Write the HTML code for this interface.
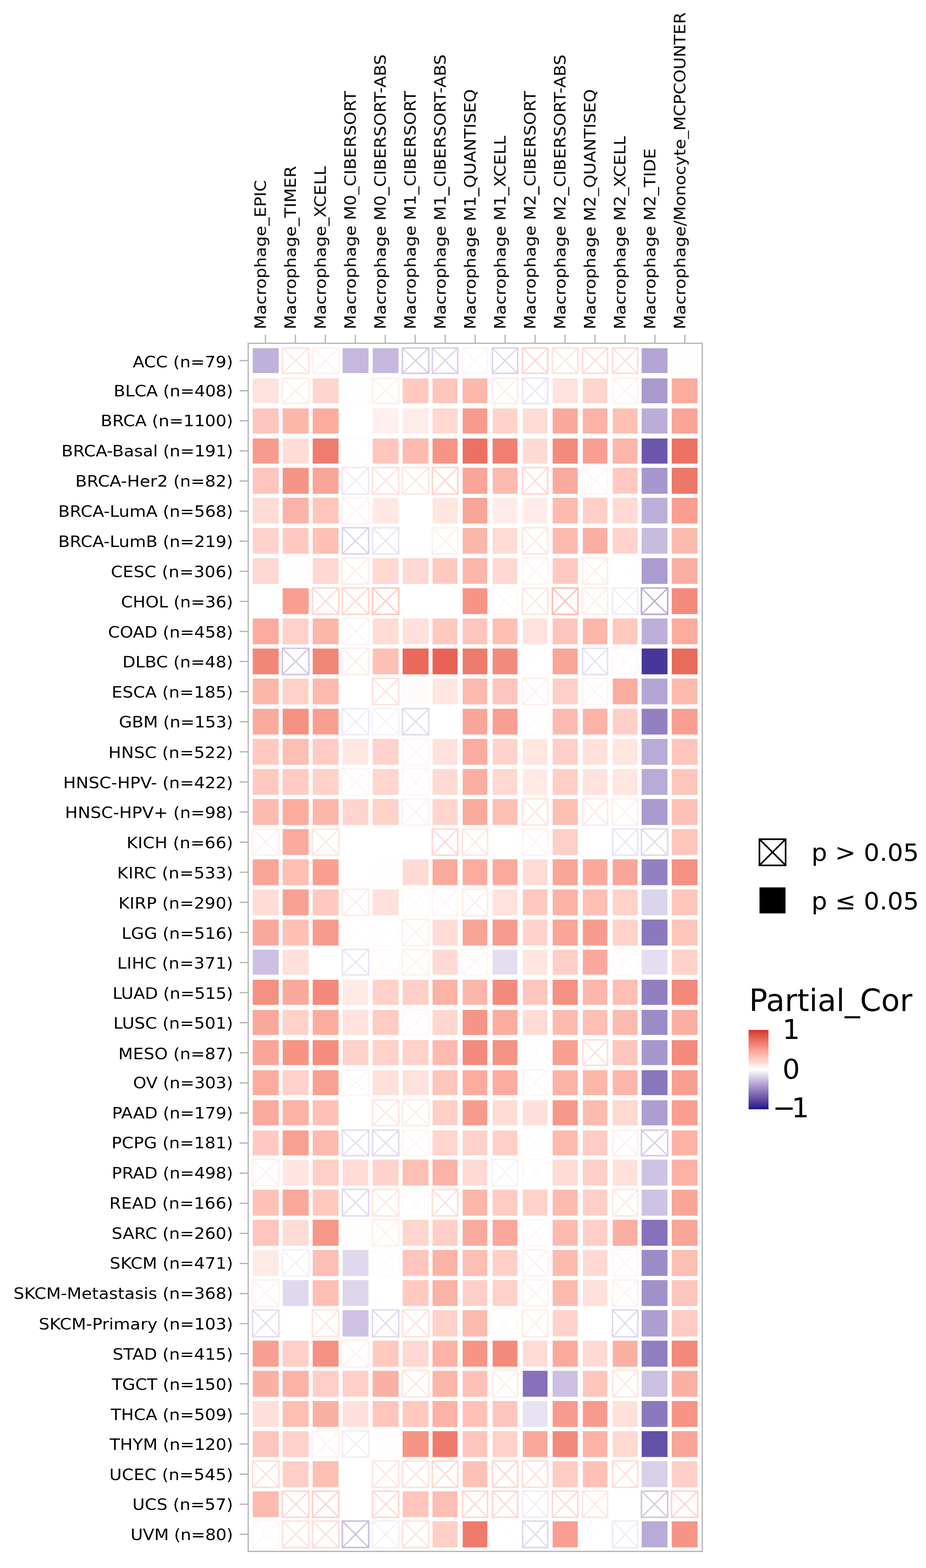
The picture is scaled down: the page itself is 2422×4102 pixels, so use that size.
<!DOCTYPE html>
<html lang="en"><head><meta charset="utf-8"><title>Partial_Cor heatmap</title>
<style>
html,body{margin:0;padding:0;background:#fff}
body{width:2422px;height:4102px;overflow:hidden}
svg{display:block;font-family:"DejaVu Sans","Liberation Sans",sans-serif;fill:#000}
.yl text{font-size:44.27px;text-anchor:end}
.xl text{font-size:43.85px;text-anchor:start}
.tk{stroke:#b3b3b3;stroke-width:3.2;fill:none}
.nb{fill:none;stroke-width:4.2}
.nx{fill:none;stroke-width:3.3}
</style></head><body>
<svg width="2422" height="4102" viewBox="0 0 2422 4102">
<rect width="2422" height="4102" fill="#fff"/>
<defs><filter id="soft" x="0" y="0" width="2422" height="4102" filterUnits="userSpaceOnUse" color-interpolation-filters="sRGB"><feGaussianBlur stdDeviation="0.7"/></filter></defs>
<g filter="url(#soft)">
<rect x="649.2" y="898" width="1187.6" height="3160.6" fill="#fff" stroke="#b3b3b3" stroke-width="3.2"/>
<path class="tk" d="M694.3 875.5v22.5M772.66 875.5v22.5M851.02 875.5v22.5M929.38 875.5v22.5M1007.74 875.5v22.5M1086.1 875.5v22.5M1164.46 875.5v22.5M1242.82 875.5v22.5M1321.18 875.5v22.5M1399.54 875.5v22.5M1477.9 875.5v22.5M1556.26 875.5v22.5M1634.62 875.5v22.5M1712.98 875.5v22.5M1791.34 875.5v22.5M626.7 943.4h22.5M626.7 1022.13h22.5M626.7 1100.86h22.5M626.7 1179.59h22.5M626.7 1258.32h22.5M626.7 1337.05h22.5M626.7 1415.78h22.5M626.7 1494.51h22.5M626.7 1573.24h22.5M626.7 1651.97h22.5M626.7 1730.7h22.5M626.7 1809.43h22.5M626.7 1888.16h22.5M626.7 1966.89h22.5M626.7 2045.62h22.5M626.7 2124.35h22.5M626.7 2203.08h22.5M626.7 2281.81h22.5M626.7 2360.54h22.5M626.7 2439.27h22.5M626.7 2518h22.5M626.7 2596.73h22.5M626.7 2675.46h22.5M626.7 2754.19h22.5M626.7 2832.92h22.5M626.7 2911.65h22.5M626.7 2990.38h22.5M626.7 3069.11h22.5M626.7 3147.84h22.5M626.7 3226.57h22.5M626.7 3305.3h22.5M626.7 3384.03h22.5M626.7 3462.76h22.5M626.7 3541.49h22.5M626.7 3620.22h22.5M626.7 3698.95h22.5M626.7 3777.68h22.5M626.7 3856.41h22.5M626.7 3935.14h22.5M626.7 4013.87h22.5"/>
<g class="cells">
<g>
<rect x="661.05" y="910.95" width="67.8" height="65.1" fill="#bfb1da"/>
<g stroke="#ffe2dd"><path class="nb" d="M738.75 910.4H807.85V976.6H738.75z"/><path class="nx" d="M738.75 910.4L807.85 976.6M738.75 976.6L807.85 910.4"/></g>
<g stroke="#fff1ef"><path class="nb" d="M817.3 910.4H886.1V976.6H817.3z"/><path class="nx" d="M817.3 910.4L886.1 976.6M817.3 976.6L886.1 910.4"/></g>
<rect x="896.1" y="910.95" width="67.7" height="65.1" fill="#c5b8de"/>
<rect x="974.85" y="910.95" width="67.5" height="65.1" fill="#c5b8de"/>
<g stroke="#d6cce7"><path class="nb" d="M1052.55 910.4H1121.45V976.6H1052.55z"/><path class="nx" d="M1052.55 910.4L1121.45 976.6M1052.55 976.6L1121.45 910.4"/></g>
<g stroke="#dad1ea"><path class="nb" d="M1130.8 910.4H1197.25V976.6H1130.8z"/><path class="nx" d="M1130.8 910.4L1197.25 976.6M1130.8 976.6L1197.25 910.4"/></g>
<g stroke="#fff5f4"><path class="nb" d="M1209.6 910.4H1275.25V976.6H1209.6z"/><path class="nx" d="M1209.6 910.4L1275.25 976.6M1209.6 976.6L1275.25 910.4"/></g>
<g stroke="#dcd4eb"><path class="nb" d="M1287.9 910.4H1354V976.6H1287.9z"/><path class="nx" d="M1287.9 910.4L1354 976.6M1287.9 976.6L1354 910.4"/></g>
<g stroke="#ffd5cd"><path class="nb" d="M1366.85 910.4H1432.6V976.6H1366.85z"/><path class="nx" d="M1366.85 910.4L1432.6 976.6M1366.85 976.6L1432.6 910.4"/></g>
<g stroke="#ffe2dd"><path class="nb" d="M1444.9 910.4H1511.6V976.6H1444.9z"/><path class="nx" d="M1444.9 910.4L1511.6 976.6M1444.9 976.6L1511.6 910.4"/></g>
<g stroke="#ffdcd6"><path class="nb" d="M1523.85 910.4H1589.1V976.6H1523.85z"/><path class="nx" d="M1523.85 910.4L1589.1 976.6M1523.85 976.6L1589.1 910.4"/></g>
<g stroke="#ffdcd6"><path class="nb" d="M1602.1 910.4H1668.1V976.6H1602.1z"/><path class="nx" d="M1602.1 910.4L1668.1 976.6M1602.1 976.6L1668.1 910.4"/></g>
<rect x="1678.3" y="910.95" width="67.5" height="65.1" fill="#b4a5d5"/>
<g stroke="#fffbfa"><path class="nb" d="M1756.4 910.4H1825V976.6H1756.4z"/><path class="nx" d="M1756.4 910.4L1825 976.6M1756.4 976.6L1825 910.4"/></g>
</g>
<g>
<rect x="661.05" y="989.88" width="67.8" height="65.1" fill="#ffe2dd"/>
<g stroke="#ffece8"><path class="nb" d="M738.75 989.33H807.85V1055.53H738.75z"/><path class="nx" d="M738.75 989.33L807.85 1055.53M738.75 1055.53L807.85 989.33"/></g>
<rect x="817.85" y="989.88" width="67.7" height="65.1" fill="#ffd5cd"/>
<g stroke="#fffbfa"><path class="nb" d="M895.55 989.33H964.35V1055.53H895.55z"/><path class="nx" d="M895.55 989.33L964.35 1055.53M895.55 1055.53L964.35 989.33"/></g>
<g stroke="#fff0ed"><path class="nb" d="M974.3 989.33H1042.9V1055.53H974.3z"/><path class="nx" d="M974.3 989.33L1042.9 1055.53M974.3 1055.53L1042.9 989.33"/></g>
<rect x="1053.1" y="989.88" width="67.8" height="65.1" fill="#ffc9c0"/>
<rect x="1131.35" y="989.88" width="65.35" height="65.1" fill="#fec5bc"/>
<rect x="1210.15" y="989.88" width="64.55" height="65.1" fill="#fdb8ac"/>
<g stroke="#ffece8"><path class="nb" d="M1287.9 989.33H1354V1055.53H1287.9z"/><path class="nx" d="M1287.9 989.33L1354 1055.53M1287.9 1055.53L1354 989.33"/></g>
<g stroke="#eae5f3"><path class="nb" d="M1366.85 989.33H1432.6V1055.53H1366.85z"/><path class="nx" d="M1366.85 989.33L1432.6 1055.53M1366.85 1055.53L1432.6 989.33"/></g>
<rect x="1445.45" y="989.88" width="65.6" height="65.1" fill="#ffe2dd"/>
<rect x="1524.4" y="989.88" width="64.15" height="65.1" fill="#ffd5cd"/>
<g stroke="#fff3f1"><path class="nb" d="M1602.1 989.33H1668.1V1055.53H1602.1z"/><path class="nx" d="M1602.1 989.33L1668.1 1055.53M1602.1 1055.53L1668.1 989.33"/></g>
<rect x="1678.3" y="989.88" width="67.5" height="65.1" fill="#aa99cf"/>
<rect x="1756.95" y="989.88" width="67.5" height="65.1" fill="#fbac9f"/>
</g>
<g>
<rect x="661.05" y="1068.41" width="67.8" height="65.7" fill="#fec5bc"/>
<rect x="739.3" y="1068.41" width="68" height="65.7" fill="#fcb6aa"/>
<rect x="817.85" y="1068.41" width="67.7" height="65.7" fill="#fbac9f"/>
<rect x="974.85" y="1068.41" width="67.5" height="65.7" fill="#fff0ed"/>
<rect x="1053.1" y="1068.41" width="67.8" height="65.7" fill="#ffece8"/>
<rect x="1131.35" y="1068.41" width="65.35" height="65.7" fill="#ffd8d2"/>
<rect x="1210.15" y="1068.41" width="64.55" height="65.7" fill="#f79b8d"/>
<rect x="1288.45" y="1068.41" width="65" height="65.7" fill="#ffd3cb"/>
<rect x="1367.4" y="1068.41" width="64.65" height="65.7" fill="#ffdcd6"/>
<rect x="1445.45" y="1068.41" width="65.6" height="65.7" fill="#faa89b"/>
<rect x="1524.4" y="1068.41" width="64.15" height="65.7" fill="#fcb2a6"/>
<rect x="1602.65" y="1068.41" width="64.9" height="65.7" fill="#fec0b5"/>
<rect x="1678.3" y="1068.41" width="67.5" height="65.7" fill="#bbacd8"/>
<rect x="1756.95" y="1068.41" width="67.5" height="65.7" fill="#f9a597"/>
</g>
<g>
<rect x="661.05" y="1147.14" width="67.8" height="65.7" fill="#f79b8d"/>
<rect x="739.3" y="1147.14" width="68" height="65.7" fill="#ffdcd6"/>
<rect x="817.85" y="1147.14" width="67.7" height="65.7" fill="#ef7d6e"/>
<g stroke="#fffbfa"><path class="nb" d="M895.55 1146.59H964.35V1213.39H895.55z"/><path class="nx" d="M895.55 1146.59L964.35 1213.39M895.55 1213.39L964.35 1146.59"/></g>
<rect x="974.85" y="1147.14" width="67.5" height="65.7" fill="#fec5bc"/>
<rect x="1053.1" y="1147.14" width="67.8" height="65.7" fill="#fdbaaf"/>
<rect x="1131.35" y="1147.14" width="65.35" height="65.7" fill="#f69586"/>
<rect x="1210.15" y="1147.14" width="64.55" height="65.7" fill="#eb7162"/>
<rect x="1288.45" y="1147.14" width="65" height="65.7" fill="#f07f70"/>
<rect x="1367.4" y="1147.14" width="64.65" height="65.7" fill="#ffdad4"/>
<rect x="1445.45" y="1147.14" width="65.6" height="65.7" fill="#f38b7c"/>
<rect x="1524.4" y="1147.14" width="64.15" height="65.7" fill="#f89f91"/>
<rect x="1602.65" y="1147.14" width="64.9" height="65.7" fill="#fcb6aa"/>
<rect x="1678.3" y="1147.14" width="67.5" height="65.7" fill="#6c56ac"/>
<rect x="1756.95" y="1147.14" width="67.5" height="65.7" fill="#ec7364"/>
</g>
<g>
<rect x="661.05" y="1223.77" width="67.8" height="68" fill="#fec5bc"/>
<rect x="739.3" y="1223.77" width="68" height="68" fill="#f69586"/>
<rect x="817.85" y="1223.77" width="67.7" height="68" fill="#f9a597"/>
<g stroke="#eeeaf6"><path class="nb" d="M895.55 1223.22H964.35V1292.32H895.55z"/><path class="nx" d="M895.55 1223.22L964.35 1292.32M895.55 1292.32L964.35 1223.22"/></g>
<g stroke="#ffe2dd"><path class="nb" d="M974.3 1223.22H1042.9V1292.32H974.3z"/><path class="nx" d="M974.3 1223.22L1042.9 1292.32M974.3 1292.32L1042.9 1223.22"/></g>
<g stroke="#ffe6e1"><path class="nb" d="M1052.55 1223.22H1121.45V1292.32H1052.55z"/><path class="nx" d="M1052.55 1223.22L1121.45 1292.32M1052.55 1292.32L1121.45 1223.22"/></g>
<g stroke="#ffd5cd"><path class="nb" d="M1130.8 1223.22H1197.25V1292.32H1130.8z"/><path class="nx" d="M1130.8 1223.22L1197.25 1292.32M1130.8 1292.32L1197.25 1223.22"/></g>
<rect x="1210.15" y="1223.77" width="64.55" height="68" fill="#f9a597"/>
<rect x="1288.45" y="1223.77" width="65" height="68" fill="#fdbaaf"/>
<g stroke="#ffd8d2"><path class="nb" d="M1366.85 1223.22H1432.6V1292.32H1366.85z"/><path class="nx" d="M1366.85 1223.22L1432.6 1292.32M1366.85 1292.32L1432.6 1223.22"/></g>
<rect x="1445.45" y="1223.77" width="65.6" height="68" fill="#faaa9d"/>
<g stroke="#fff5f4"><path class="nb" d="M1523.85 1223.22H1589.1V1292.32H1523.85z"/><path class="nx" d="M1523.85 1223.22L1589.1 1292.32M1523.85 1292.32L1589.1 1223.22"/></g>
<rect x="1602.65" y="1223.77" width="64.9" height="68" fill="#ffc9c0"/>
<rect x="1678.3" y="1223.77" width="67.5" height="68" fill="#a897cd"/>
<rect x="1756.95" y="1223.77" width="67.5" height="68" fill="#ed7768"/>
</g>
<g>
<rect x="661.05" y="1302.2" width="67.8" height="67.3" fill="#ffdcd6"/>
<rect x="739.3" y="1302.2" width="68" height="67.3" fill="#fcb2a6"/>
<rect x="817.85" y="1302.2" width="67.7" height="67.3" fill="#fec5bc"/>
<g stroke="#fff3f1"><path class="nb" d="M895.55 1301.65H964.35V1370.05H895.55z"/><path class="nx" d="M895.55 1301.65L964.35 1370.05M895.55 1370.05L964.35 1301.65"/></g>
<rect x="974.85" y="1302.2" width="67.5" height="67.3" fill="#ffe8e4"/>
<rect x="1131.35" y="1302.2" width="65.35" height="67.3" fill="#ffe6e1"/>
<rect x="1210.15" y="1302.2" width="64.55" height="67.3" fill="#f9a597"/>
<rect x="1288.45" y="1302.2" width="65" height="67.3" fill="#ffece8"/>
<rect x="1367.4" y="1302.2" width="64.65" height="67.3" fill="#ffece8"/>
<rect x="1445.45" y="1302.2" width="65.6" height="67.3" fill="#fdbaaf"/>
<rect x="1524.4" y="1302.2" width="64.15" height="67.3" fill="#ffcfc7"/>
<rect x="1602.65" y="1302.2" width="64.9" height="67.3" fill="#ffdad4"/>
<rect x="1678.3" y="1302.2" width="67.5" height="67.3" fill="#bdafd9"/>
<rect x="1756.95" y="1302.2" width="67.5" height="67.3" fill="#f89f91"/>
</g>
<g>
<rect x="661.05" y="1381.23" width="67.8" height="67.3" fill="#ffd3cb"/>
<rect x="739.3" y="1381.23" width="68" height="67.3" fill="#ffc9c0"/>
<rect x="817.85" y="1381.23" width="67.7" height="67.3" fill="#fec0b5"/>
<g stroke="#dcd4eb"><path class="nb" d="M895.55 1380.68H964.35V1449.08H895.55z"/><path class="nx" d="M895.55 1380.68L964.35 1449.08M895.55 1449.08L964.35 1380.68"/></g>
<g stroke="#eae5f3"><path class="nb" d="M974.3 1380.68H1042.9V1449.08H974.3z"/><path class="nx" d="M974.3 1380.68L1042.9 1449.08M974.3 1449.08L1042.9 1380.68"/></g>
<g stroke="#fff0ed"><path class="nb" d="M1130.8 1380.68H1197.25V1449.08H1130.8z"/><path class="nx" d="M1130.8 1380.68L1197.25 1449.08M1130.8 1449.08L1197.25 1380.68"/></g>
<rect x="1210.15" y="1381.23" width="64.55" height="67.3" fill="#fcb6aa"/>
<rect x="1288.45" y="1381.23" width="65" height="67.3" fill="#ffdcd6"/>
<g stroke="#ffe6e1"><path class="nb" d="M1366.85 1380.68H1432.6V1449.08H1366.85z"/><path class="nx" d="M1366.85 1380.68L1432.6 1449.08M1366.85 1449.08L1432.6 1380.68"/></g>
<rect x="1445.45" y="1381.23" width="65.6" height="67.3" fill="#fdbaaf"/>
<rect x="1524.4" y="1381.23" width="64.15" height="67.3" fill="#fbaea2"/>
<rect x="1602.65" y="1381.23" width="64.9" height="67.3" fill="#ffd3cb"/>
<rect x="1678.3" y="1381.23" width="67.5" height="67.3" fill="#c7bbdf"/>
<rect x="1756.95" y="1381.23" width="67.5" height="67.3" fill="#fdbaaf"/>
</g>
<g>
<rect x="661.05" y="1460.16" width="67.8" height="67.4" fill="#ffd8d2"/>
<g stroke="#fffbfa"><path class="nb" d="M738.75 1459.61H807.85V1528.11H738.75z"/><path class="nx" d="M738.75 1459.61L807.85 1528.11M738.75 1528.11L807.85 1459.61"/></g>
<rect x="817.85" y="1460.16" width="67.7" height="67.4" fill="#ffd8d2"/>
<g stroke="#ffece8"><path class="nb" d="M895.55 1459.61H964.35V1528.11H895.55z"/><path class="nx" d="M895.55 1459.61L964.35 1528.11M895.55 1528.11L964.35 1459.61"/></g>
<rect x="974.85" y="1460.16" width="67.5" height="67.4" fill="#ffd8d2"/>
<rect x="1053.1" y="1460.16" width="67.8" height="67.4" fill="#ffd8d2"/>
<rect x="1131.35" y="1460.16" width="65.35" height="67.4" fill="#ffc9c0"/>
<rect x="1210.15" y="1460.16" width="64.55" height="67.4" fill="#fcb6aa"/>
<rect x="1288.45" y="1460.16" width="65" height="67.4" fill="#ffd8d2"/>
<g stroke="#fff3f1"><path class="nb" d="M1366.85 1459.61H1432.6V1528.11H1366.85z"/><path class="nx" d="M1366.85 1459.61L1432.6 1528.11M1366.85 1528.11L1432.6 1459.61"/></g>
<rect x="1445.45" y="1460.16" width="65.6" height="67.4" fill="#ffc9c0"/>
<g stroke="#ffece8"><path class="nb" d="M1523.85 1459.61H1589.1V1528.11H1523.85z"/><path class="nx" d="M1523.85 1459.61L1589.1 1528.11M1523.85 1528.11L1589.1 1459.61"/></g>
<g stroke="#fffdfd"><path class="nb" d="M1602.1 1459.61H1668.1V1528.11H1602.1z"/><path class="nx" d="M1602.1 1459.61L1668.1 1528.11M1602.1 1528.11L1668.1 1459.61"/></g>
<rect x="1678.3" y="1460.16" width="67.5" height="67.4" fill="#ac9bd0"/>
<rect x="1756.95" y="1460.16" width="67.5" height="67.4" fill="#fbaea2"/>
</g>
<g>
<rect x="739.3" y="1538.79" width="68" height="67.7" fill="#f89f91"/>
<g stroke="#ffd8d2"><path class="nb" d="M817.3 1538.24H886.1V1607.04H817.3z"/><path class="nx" d="M817.3 1538.24L886.1 1607.04M817.3 1607.04L886.1 1538.24"/></g>
<g stroke="#ffd8d2"><path class="nb" d="M895.55 1538.24H964.35V1607.04H895.55z"/><path class="nx" d="M895.55 1538.24L964.35 1607.04M895.55 1607.04L964.35 1538.24"/></g>
<g stroke="#ffc9c0"><path class="nb" d="M974.3 1538.24H1042.9V1607.04H974.3z"/><path class="nx" d="M974.3 1538.24L1042.9 1607.04M974.3 1607.04L1042.9 1538.24"/></g>
<rect x="1210.15" y="1538.79" width="64.55" height="67.7" fill="#f69586"/>
<g stroke="#fff7f6"><path class="nb" d="M1287.9 1538.24H1354V1607.04H1287.9z"/><path class="nx" d="M1287.9 1538.24L1354 1607.04M1287.9 1607.04L1354 1538.24"/></g>
<g stroke="#ffe6e1"><path class="nb" d="M1366.85 1538.24H1432.6V1607.04H1366.85z"/><path class="nx" d="M1366.85 1538.24L1432.6 1607.04M1366.85 1607.04L1432.6 1538.24"/></g>
<g stroke="#fec0b5"><path class="nb" d="M1444.9 1538.24H1511.6V1607.04H1444.9z"/><path class="nx" d="M1444.9 1538.24L1511.6 1607.04M1444.9 1607.04L1511.6 1538.24"/></g>
<g stroke="#ffece8"><path class="nb" d="M1523.85 1538.24H1589.1V1607.04H1523.85z"/><path class="nx" d="M1523.85 1538.24L1589.1 1607.04M1523.85 1607.04L1589.1 1538.24"/></g>
<g stroke="#f0edf7"><path class="nb" d="M1602.1 1538.24H1668.1V1607.04H1602.1z"/><path class="nx" d="M1602.1 1538.24L1668.1 1607.04M1602.1 1607.04L1668.1 1538.24"/></g>
<g stroke="#bbacd8"><path class="nb" d="M1677.75 1538.24H1746.35V1607.04H1677.75z"/><path class="nx" d="M1677.75 1538.24L1746.35 1607.04M1677.75 1607.04L1746.35 1538.24"/></g>
<rect x="1756.95" y="1538.79" width="67.5" height="67.7" fill="#f38b7c"/>
</g>
<g>
<rect x="661.05" y="1618.02" width="67.8" height="67.6" fill="#fbac9f"/>
<rect x="739.3" y="1618.02" width="68" height="67.6" fill="#ffd1c9"/>
<rect x="817.85" y="1618.02" width="67.7" height="67.6" fill="#fcb6aa"/>
<g stroke="#f7f5fa"><path class="nb" d="M895.55 1617.47H964.35V1686.17H895.55z"/><path class="nx" d="M895.55 1617.47L964.35 1686.17M895.55 1686.17L964.35 1617.47"/></g>
<rect x="974.85" y="1618.02" width="67.5" height="67.6" fill="#ffdcd6"/>
<rect x="1053.1" y="1618.02" width="67.8" height="67.6" fill="#ffe0db"/>
<rect x="1131.35" y="1618.02" width="65.35" height="67.6" fill="#ffc9c0"/>
<rect x="1210.15" y="1618.02" width="64.55" height="67.6" fill="#fec5bc"/>
<rect x="1288.45" y="1618.02" width="65" height="67.6" fill="#fec0b5"/>
<rect x="1367.4" y="1618.02" width="64.65" height="67.6" fill="#ffe2dd"/>
<rect x="1445.45" y="1618.02" width="65.6" height="67.6" fill="#fec5bc"/>
<rect x="1524.4" y="1618.02" width="64.15" height="67.6" fill="#fcb6aa"/>
<rect x="1602.65" y="1618.02" width="64.9" height="67.6" fill="#ffc9c0"/>
<rect x="1678.3" y="1618.02" width="67.5" height="67.6" fill="#bdafd9"/>
<rect x="1756.95" y="1618.02" width="67.5" height="67.6" fill="#fbac9f"/>
</g>
<g>
<rect x="661.05" y="1696.55" width="67.8" height="67.5" fill="#f28778"/>
<g stroke="#d1c7e5"><path class="nb" d="M738.75 1696H807.85V1764.6H738.75z"/><path class="nx" d="M738.75 1696L807.85 1764.6M738.75 1764.6L807.85 1696"/></g>
<rect x="817.85" y="1696.55" width="67.7" height="67.5" fill="#f18576"/>
<g stroke="#ffece8"><path class="nb" d="M895.55 1696H964.35V1764.6H895.55z"/><path class="nx" d="M895.55 1696L964.35 1764.6M895.55 1764.6L964.35 1696"/></g>
<rect x="974.85" y="1696.55" width="67.5" height="67.5" fill="#fec0b5"/>
<rect x="1053.1" y="1696.55" width="67.8" height="67.5" fill="#e9695a"/>
<rect x="1131.35" y="1696.55" width="65.35" height="67.5" fill="#e76254"/>
<rect x="1210.15" y="1696.55" width="64.55" height="67.5" fill="#ef7b6c"/>
<rect x="1288.45" y="1696.55" width="65" height="67.5" fill="#f38b7c"/>
<g stroke="#fffdfd"><path class="nb" d="M1366.85 1696H1432.6V1764.6H1366.85z"/><path class="nx" d="M1366.85 1696L1432.6 1764.6M1366.85 1764.6L1432.6 1696"/></g>
<rect x="1445.45" y="1696.55" width="65.6" height="67.5" fill="#f9a597"/>
<g stroke="#e6e0f1"><path class="nb" d="M1523.85 1696H1589.1V1764.6H1523.85z"/><path class="nx" d="M1523.85 1696L1589.1 1764.6M1523.85 1764.6L1589.1 1696"/></g>
<g stroke="#fff7f6"><path class="nb" d="M1602.1 1696H1668.1V1764.6H1602.1z"/><path class="nx" d="M1602.1 1696L1668.1 1764.6M1602.1 1764.6L1668.1 1696"/></g>
<rect x="1678.3" y="1696.55" width="67.5" height="67.5" fill="#48369a"/>
<rect x="1756.95" y="1696.55" width="67.5" height="67.5" fill="#e96b5c"/>
</g>
<g>
<rect x="661.05" y="1775.18" width="67.8" height="67.5" fill="#fcb6aa"/>
<rect x="739.3" y="1775.18" width="68" height="67.5" fill="#ffd1c9"/>
<rect x="817.85" y="1775.18" width="67.7" height="67.5" fill="#fdbaaf"/>
<g stroke="#ffe2dd"><path class="nb" d="M974.3 1774.63H1042.9V1843.23H974.3z"/><path class="nx" d="M974.3 1774.63L1042.9 1843.23M974.3 1843.23L1042.9 1774.63"/></g>
<rect x="1053.1" y="1775.18" width="67.8" height="67.5" fill="#fffbfa"/>
<rect x="1131.35" y="1775.18" width="65.35" height="67.5" fill="#ffe6e1"/>
<rect x="1210.15" y="1775.18" width="64.55" height="67.5" fill="#fdbaaf"/>
<rect x="1288.45" y="1775.18" width="65" height="67.5" fill="#fec5bc"/>
<g stroke="#fff0ed"><path class="nb" d="M1366.85 1774.63H1432.6V1843.23H1366.85z"/><path class="nx" d="M1366.85 1774.63L1432.6 1843.23M1366.85 1843.23L1432.6 1774.63"/></g>
<rect x="1445.45" y="1775.18" width="65.6" height="67.5" fill="#ffcfc7"/>
<g stroke="#fff3f1"><path class="nb" d="M1523.85 1774.63H1589.1V1843.23H1523.85z"/><path class="nx" d="M1523.85 1774.63L1589.1 1843.23M1523.85 1843.23L1589.1 1774.63"/></g>
<rect x="1602.65" y="1775.18" width="64.9" height="67.5" fill="#fbac9f"/>
<rect x="1678.3" y="1775.18" width="67.5" height="67.5" fill="#b4a5d5"/>
<rect x="1756.95" y="1775.18" width="67.5" height="67.5" fill="#fdbaaf"/>
</g>
<g>
<rect x="661.05" y="1854.21" width="67.8" height="67.3" fill="#faaa9d"/>
<rect x="739.3" y="1854.21" width="68" height="67.3" fill="#f59182"/>
<rect x="817.85" y="1854.21" width="67.7" height="67.3" fill="#f89f91"/>
<g stroke="#eeeaf6"><path class="nb" d="M895.55 1853.66H964.35V1922.06H895.55z"/><path class="nx" d="M895.55 1853.66L964.35 1922.06M895.55 1922.06L964.35 1853.66"/></g>
<g stroke="#f5f2f9"><path class="nb" d="M974.3 1853.66H1042.9V1922.06H974.3z"/><path class="nx" d="M974.3 1853.66L1042.9 1922.06M974.3 1922.06L1042.9 1853.66"/></g>
<g stroke="#e2dbef"><path class="nb" d="M1052.55 1853.66H1121.45V1922.06H1052.55z"/><path class="nx" d="M1052.55 1853.66L1121.45 1922.06M1052.55 1922.06L1121.45 1853.66"/></g>
<rect x="1210.15" y="1854.21" width="64.55" height="67.3" fill="#f9a699"/>
<rect x="1288.45" y="1854.21" width="65" height="67.3" fill="#f89f91"/>
<g stroke="#fffbfa"><path class="nb" d="M1366.85 1853.66H1432.6V1922.06H1366.85z"/><path class="nx" d="M1366.85 1853.66L1432.6 1922.06M1366.85 1922.06L1432.6 1853.66"/></g>
<rect x="1445.45" y="1854.21" width="65.6" height="67.3" fill="#fdbaaf"/>
<rect x="1524.4" y="1854.21" width="64.15" height="67.3" fill="#fcb2a6"/>
<rect x="1602.65" y="1854.21" width="64.9" height="67.3" fill="#ffcfc7"/>
<rect x="1678.3" y="1854.21" width="67.5" height="67.3" fill="#937fc2"/>
<rect x="1756.95" y="1854.21" width="67.5" height="67.3" fill="#f89f91"/>
</g>
<g>
<rect x="661.05" y="1933.04" width="67.8" height="67.7" fill="#ffc9c0"/>
<rect x="739.3" y="1933.04" width="68" height="67.7" fill="#fdbeb3"/>
<rect x="817.85" y="1933.04" width="67.7" height="67.7" fill="#ffcbc2"/>
<rect x="896.1" y="1933.04" width="67.7" height="67.7" fill="#ffe8e4"/>
<rect x="974.85" y="1933.04" width="67.5" height="67.7" fill="#ffd3cb"/>
<g stroke="#fff7f6"><path class="nb" d="M1052.55 1932.49H1121.45V2001.29H1052.55z"/><path class="nx" d="M1052.55 1932.49L1121.45 2001.29M1052.55 2001.29L1121.45 1932.49"/></g>
<rect x="1131.35" y="1933.04" width="65.35" height="67.7" fill="#ffe2dd"/>
<rect x="1210.15" y="1933.04" width="64.55" height="67.7" fill="#fbac9f"/>
<rect x="1288.45" y="1933.04" width="65" height="67.7" fill="#ffd3cb"/>
<rect x="1367.4" y="1933.04" width="64.65" height="67.7" fill="#ffe6e1"/>
<rect x="1445.45" y="1933.04" width="65.6" height="67.7" fill="#ffcfc7"/>
<rect x="1524.4" y="1933.04" width="64.15" height="67.7" fill="#ffe0db"/>
<rect x="1602.65" y="1933.04" width="64.9" height="67.7" fill="#ffe6e1"/>
<rect x="1678.3" y="1933.04" width="67.5" height="67.7" fill="#b9aad7"/>
<rect x="1756.95" y="1933.04" width="67.5" height="67.7" fill="#fec5bc"/>
</g>
<g>
<rect x="661.05" y="2011.67" width="67.8" height="67.8" fill="#ffc9c0"/>
<rect x="739.3" y="2011.67" width="68" height="67.8" fill="#ffcbc2"/>
<rect x="817.85" y="2011.67" width="67.7" height="67.8" fill="#ffd1c9"/>
<g stroke="#fff5f4"><path class="nb" d="M895.55 2011.12H964.35V2080.02H895.55z"/><path class="nx" d="M895.55 2011.12L964.35 2080.02M895.55 2080.02L964.35 2011.12"/></g>
<rect x="974.85" y="2011.67" width="67.5" height="67.8" fill="#ffd5cd"/>
<g stroke="#fff7f6"><path class="nb" d="M1052.55 2011.12H1121.45V2080.02H1052.55z"/><path class="nx" d="M1052.55 2011.12L1121.45 2080.02M1052.55 2080.02L1121.45 2011.12"/></g>
<rect x="1131.35" y="2011.67" width="65.35" height="67.8" fill="#ffdad4"/>
<rect x="1210.15" y="2011.67" width="64.55" height="67.8" fill="#fbaea2"/>
<rect x="1288.45" y="2011.67" width="65" height="67.8" fill="#ffd8d2"/>
<rect x="1367.4" y="2011.67" width="64.65" height="67.8" fill="#ffeae6"/>
<rect x="1445.45" y="2011.67" width="65.6" height="67.8" fill="#ffcfc7"/>
<rect x="1524.4" y="2011.67" width="64.15" height="67.8" fill="#ffe2dd"/>
<rect x="1602.65" y="2011.67" width="64.9" height="67.8" fill="#ffe6e1"/>
<rect x="1678.3" y="2011.67" width="67.5" height="67.8" fill="#b9aad7"/>
<rect x="1756.95" y="2011.67" width="67.5" height="67.8" fill="#fec5bc"/>
</g>
<g>
<rect x="661.05" y="2090.3" width="67.8" height="67.9" fill="#fdbaaf"/>
<rect x="739.3" y="2090.3" width="68" height="67.9" fill="#fbac9f"/>
<rect x="817.85" y="2090.3" width="67.7" height="67.9" fill="#fcb6aa"/>
<rect x="896.1" y="2090.3" width="67.7" height="67.9" fill="#ffd5cd"/>
<rect x="974.85" y="2090.3" width="67.5" height="67.9" fill="#ffd1c9"/>
<g stroke="#fff1ef"><path class="nb" d="M1052.55 2089.75H1121.45V2158.75H1052.55z"/><path class="nx" d="M1052.55 2089.75L1121.45 2158.75M1052.55 2158.75L1121.45 2089.75"/></g>
<rect x="1131.35" y="2090.3" width="65.35" height="67.9" fill="#ffd5cd"/>
<rect x="1210.15" y="2090.3" width="64.55" height="67.9" fill="#faaa9d"/>
<rect x="1288.45" y="2090.3" width="65" height="67.9" fill="#fec0b5"/>
<g stroke="#ffe2dd"><path class="nb" d="M1366.85 2089.75H1432.6V2158.75H1366.85z"/><path class="nx" d="M1366.85 2089.75L1432.6 2158.75M1366.85 2158.75L1432.6 2089.75"/></g>
<rect x="1445.45" y="2090.3" width="65.6" height="67.9" fill="#fdbeb3"/>
<g stroke="#ffe8e4"><path class="nb" d="M1523.85 2089.75H1589.1V2158.75H1523.85z"/><path class="nx" d="M1523.85 2089.75L1589.1 2158.75M1523.85 2158.75L1589.1 2089.75"/></g>
<g stroke="#fff0ed"><path class="nb" d="M1602.1 2089.75H1668.1V2158.75H1602.1z"/><path class="nx" d="M1602.1 2089.75L1668.1 2158.75M1602.1 2158.75L1668.1 2089.75"/></g>
<rect x="1678.3" y="2090.3" width="67.5" height="67.9" fill="#aa99cf"/>
<rect x="1756.95" y="2090.3" width="67.5" height="67.9" fill="#fec1b7"/>
</g>
<g>
<g stroke="#fff0ed"><path class="nb" d="M660.5 2168.48H729.4V2237.08H660.5z"/><path class="nx" d="M660.5 2168.48L729.4 2237.08M660.5 2237.08L729.4 2168.48"/></g>
<rect x="739.3" y="2169.03" width="68" height="67.5" fill="#faaa9d"/>
<g stroke="#ffe6e1"><path class="nb" d="M817.3 2168.48H886.1V2237.08H817.3z"/><path class="nx" d="M817.3 2168.48L886.1 2237.08M817.3 2237.08L886.1 2168.48"/></g>
<g stroke="#ffd8d2"><path class="nb" d="M1130.8 2168.48H1197.25V2237.08H1130.8z"/><path class="nx" d="M1130.8 2168.48L1197.25 2237.08M1130.8 2237.08L1197.25 2168.48"/></g>
<g stroke="#ffe6e1"><path class="nb" d="M1209.6 2168.48H1275.25V2237.08H1209.6z"/><path class="nx" d="M1209.6 2168.48L1275.25 2237.08M1209.6 2237.08L1275.25 2168.48"/></g>
<g stroke="#fff3f1"><path class="nb" d="M1366.85 2168.48H1432.6V2237.08H1366.85z"/><path class="nx" d="M1366.85 2168.48L1432.6 2237.08M1366.85 2237.08L1432.6 2168.48"/></g>
<rect x="1445.45" y="2169.03" width="65.6" height="67.5" fill="#ffcfc7"/>
<g stroke="#eae5f3"><path class="nb" d="M1602.1 2168.48H1668.1V2237.08H1602.1z"/><path class="nx" d="M1602.1 2168.48L1668.1 2237.08M1602.1 2237.08L1668.1 2168.48"/></g>
<g stroke="#e0d9ed"><path class="nb" d="M1677.75 2168.48H1746.35V2237.08H1677.75z"/><path class="nx" d="M1677.75 2168.48L1746.35 2237.08M1677.75 2237.08L1746.35 2168.48"/></g>
<rect x="1756.95" y="2169.03" width="67.5" height="67.5" fill="#fec5bc"/>
</g>
<g>
<rect x="661.05" y="2248.06" width="67.8" height="67.6" fill="#f9a597"/>
<rect x="739.3" y="2248.06" width="68" height="67.6" fill="#fdbeb3"/>
<rect x="817.85" y="2248.06" width="67.7" height="67.6" fill="#f89f91"/>
<rect x="974.85" y="2248.06" width="67.5" height="67.6" fill="#fffdfd"/>
<rect x="1053.1" y="2248.06" width="67.8" height="67.6" fill="#ffdad4"/>
<rect x="1131.35" y="2248.06" width="65.35" height="67.6" fill="#faaa9d"/>
<rect x="1210.15" y="2248.06" width="64.55" height="67.6" fill="#fbac9f"/>
<rect x="1288.45" y="2248.06" width="65" height="67.6" fill="#faaa9d"/>
<rect x="1367.4" y="2248.06" width="64.65" height="67.6" fill="#ffdcd6"/>
<rect x="1445.45" y="2248.06" width="65.6" height="67.6" fill="#f9a597"/>
<rect x="1524.4" y="2248.06" width="64.15" height="67.6" fill="#faa89b"/>
<rect x="1602.65" y="2248.06" width="64.9" height="67.6" fill="#f9a597"/>
<rect x="1678.3" y="2248.06" width="67.5" height="67.6" fill="#937fc2"/>
<rect x="1756.95" y="2248.06" width="67.5" height="67.6" fill="#f59182"/>
</g>
<g>
<rect x="661.05" y="2326.79" width="67.8" height="67.7" fill="#ffdcd6"/>
<rect x="739.3" y="2326.79" width="68" height="67.7" fill="#f8a193"/>
<rect x="817.85" y="2326.79" width="67.7" height="67.7" fill="#ffc9c0"/>
<g stroke="#ffece8"><path class="nb" d="M895.55 2326.24H964.35V2395.04H895.55z"/><path class="nx" d="M895.55 2326.24L964.35 2395.04M895.55 2395.04L964.35 2326.24"/></g>
<rect x="974.85" y="2326.79" width="67.5" height="67.7" fill="#ffe0db"/>
<g stroke="#fff9f8"><path class="nb" d="M1052.55 2326.24H1121.45V2395.04H1052.55z"/><path class="nx" d="M1052.55 2326.24L1121.45 2395.04M1052.55 2395.04L1121.45 2326.24"/></g>
<g stroke="#fff5f4"><path class="nb" d="M1130.8 2326.24H1197.25V2395.04H1130.8z"/><path class="nx" d="M1130.8 2326.24L1197.25 2395.04M1130.8 2395.04L1197.25 2326.24"/></g>
<g stroke="#ffece8"><path class="nb" d="M1209.6 2326.24H1275.25V2395.04H1209.6z"/><path class="nx" d="M1209.6 2326.24L1275.25 2395.04M1209.6 2395.04L1275.25 2326.24"/></g>
<rect x="1288.45" y="2326.79" width="65" height="67.7" fill="#ffe2dd"/>
<rect x="1367.4" y="2326.79" width="64.65" height="67.7" fill="#ffc9c0"/>
<rect x="1445.45" y="2326.79" width="65.6" height="67.7" fill="#fcb2a6"/>
<rect x="1524.4" y="2326.79" width="64.15" height="67.7" fill="#fdbeb3"/>
<rect x="1602.65" y="2326.79" width="64.9" height="67.7" fill="#ffd1c9"/>
<rect x="1678.3" y="2326.79" width="67.5" height="67.7" fill="#dcd4eb"/>
<rect x="1756.95" y="2326.79" width="67.5" height="67.7" fill="#fec5bc"/>
</g>
<g>
<rect x="661.05" y="2405.62" width="67.8" height="67.9" fill="#faa89b"/>
<rect x="739.3" y="2405.62" width="68" height="67.9" fill="#fec0b5"/>
<rect x="817.85" y="2405.62" width="67.7" height="67.9" fill="#f79b8d"/>
<g stroke="#fffbfa"><path class="nb" d="M895.55 2405.07H964.35V2474.07H895.55z"/><path class="nx" d="M895.55 2405.07L964.35 2474.07M895.55 2474.07L964.35 2405.07"/></g>
<g stroke="#fffbfa"><path class="nb" d="M974.3 2405.07H1042.9V2474.07H974.3z"/><path class="nx" d="M974.3 2405.07L1042.9 2474.07M974.3 2474.07L1042.9 2405.07"/></g>
<g stroke="#fff0ed"><path class="nb" d="M1052.55 2405.07H1121.45V2474.07H1052.55z"/><path class="nx" d="M1052.55 2405.07L1121.45 2474.07M1052.55 2474.07L1121.45 2405.07"/></g>
<rect x="1131.35" y="2405.62" width="65.35" height="67.9" fill="#ffdcd6"/>
<rect x="1210.15" y="2405.62" width="64.55" height="67.9" fill="#f9a395"/>
<rect x="1288.45" y="2405.62" width="65" height="67.9" fill="#f79b8d"/>
<rect x="1367.4" y="2405.62" width="64.65" height="67.9" fill="#ffd3cb"/>
<rect x="1445.45" y="2405.62" width="65.6" height="67.9" fill="#f9a597"/>
<rect x="1524.4" y="2405.62" width="64.15" height="67.9" fill="#f79b8d"/>
<rect x="1602.65" y="2405.62" width="64.9" height="67.9" fill="#ffd1c9"/>
<rect x="1678.3" y="2405.62" width="67.5" height="67.9" fill="#8d78be"/>
<rect x="1756.95" y="2405.62" width="67.5" height="67.9" fill="#fec5bc"/>
</g>
<g>
<rect x="661.05" y="2484.5" width="67.8" height="65.25" fill="#cbc0e2"/>
<rect x="739.3" y="2484.5" width="68" height="65.25" fill="#ffe0db"/>
<g stroke="#eae5f3"><path class="nb" d="M895.55 2483.95H964.35V2550.3H895.55z"/><path class="nx" d="M895.55 2483.95L964.35 2550.3M895.55 2550.3L964.35 2483.95"/></g>
<g stroke="#fff9f8"><path class="nb" d="M974.3 2483.95H1042.9V2550.3H974.3z"/><path class="nx" d="M974.3 2483.95L1042.9 2550.3M974.3 2550.3L1042.9 2483.95"/></g>
<g stroke="#fff1ef"><path class="nb" d="M1052.55 2483.95H1121.45V2550.3H1052.55z"/><path class="nx" d="M1052.55 2483.95L1121.45 2550.3M1052.55 2550.3L1121.45 2483.95"/></g>
<rect x="1131.35" y="2484.5" width="65.35" height="65.25" fill="#ffdad4"/>
<g stroke="#fff5f4"><path class="nb" d="M1209.6 2483.95H1275.25V2550.3H1209.6z"/><path class="nx" d="M1209.6 2483.95L1275.25 2550.3M1209.6 2550.3L1275.25 2483.95"/></g>
<rect x="1288.45" y="2484.5" width="65" height="65.25" fill="#e4def0"/>
<rect x="1367.4" y="2484.5" width="64.65" height="65.25" fill="#ffe6e1"/>
<rect x="1445.45" y="2484.5" width="65.6" height="65.25" fill="#ffcfc7"/>
<rect x="1524.4" y="2484.5" width="64.15" height="65.25" fill="#faa89b"/>
<g stroke="#fff9f8"><path class="nb" d="M1602.1 2483.95H1668.1V2550.3H1602.1z"/><path class="nx" d="M1602.1 2483.95L1668.1 2550.3M1602.1 2550.3L1668.1 2483.95"/></g>
<rect x="1678.3" y="2484.5" width="67.5" height="65.25" fill="#e4def0"/>
<rect x="1756.95" y="2484.5" width="67.5" height="65.25" fill="#ffd1c9"/>
</g>
<g>
<rect x="661.05" y="2563.08" width="67.8" height="65.7" fill="#f59182"/>
<rect x="739.3" y="2563.08" width="68" height="65.7" fill="#faa89b"/>
<rect x="817.85" y="2563.08" width="67.7" height="65.7" fill="#f3897a"/>
<rect x="896.1" y="2563.08" width="67.7" height="65.7" fill="#ffeae6"/>
<rect x="974.85" y="2563.08" width="67.5" height="65.7" fill="#ffd1c9"/>
<rect x="1053.1" y="2563.08" width="67.8" height="65.7" fill="#ffcfc7"/>
<rect x="1131.35" y="2563.08" width="65.35" height="65.7" fill="#fcb2a6"/>
<rect x="1210.15" y="2563.08" width="64.55" height="65.7" fill="#fcb6aa"/>
<rect x="1288.45" y="2563.08" width="65" height="65.7" fill="#f38b7c"/>
<rect x="1367.4" y="2563.08" width="64.65" height="65.7" fill="#fec5bc"/>
<rect x="1445.45" y="2563.08" width="65.6" height="65.7" fill="#f59182"/>
<rect x="1524.4" y="2563.08" width="64.15" height="65.7" fill="#fcb6aa"/>
<rect x="1602.65" y="2563.08" width="64.9" height="65.7" fill="#fdbeb3"/>
<rect x="1678.3" y="2563.08" width="67.5" height="65.7" fill="#917dc0"/>
<rect x="1756.95" y="2563.08" width="67.5" height="65.7" fill="#f3897a"/>
</g>
<g>
<rect x="661.05" y="2642.01" width="67.8" height="65.5" fill="#faa89b"/>
<rect x="739.3" y="2642.01" width="68" height="65.5" fill="#ffd1c9"/>
<rect x="817.85" y="2642.01" width="67.7" height="65.5" fill="#fbac9f"/>
<rect x="896.1" y="2642.01" width="67.7" height="65.5" fill="#ffe2dd"/>
<rect x="974.85" y="2642.01" width="67.5" height="65.5" fill="#ffcbc2"/>
<g stroke="#fff7f6"><path class="nb" d="M1052.55 2641.46H1121.45V2708.06H1052.55z"/><path class="nx" d="M1052.55 2641.46L1121.45 2708.06M1052.55 2708.06L1121.45 2641.46"/></g>
<rect x="1131.35" y="2642.01" width="65.35" height="65.5" fill="#ffd7cf"/>
<rect x="1210.15" y="2642.01" width="64.55" height="65.5" fill="#f69586"/>
<rect x="1288.45" y="2642.01" width="65" height="65.5" fill="#fbac9f"/>
<rect x="1367.4" y="2642.01" width="64.65" height="65.5" fill="#ffdcd6"/>
<rect x="1445.45" y="2642.01" width="65.6" height="65.5" fill="#fdbaaf"/>
<rect x="1524.4" y="2642.01" width="64.15" height="65.5" fill="#fdbeb3"/>
<rect x="1602.65" y="2642.01" width="64.9" height="65.5" fill="#fdbaaf"/>
<rect x="1678.3" y="2642.01" width="67.5" height="65.5" fill="#9d8bc7"/>
<rect x="1756.95" y="2642.01" width="67.5" height="65.5" fill="#fbaea2"/>
</g>
<g>
<rect x="661.05" y="2721.04" width="67.8" height="65.3" fill="#f9a597"/>
<rect x="739.3" y="2721.04" width="68" height="65.3" fill="#f69586"/>
<rect x="817.85" y="2721.04" width="67.7" height="65.3" fill="#f48d7e"/>
<rect x="896.1" y="2721.04" width="67.7" height="65.3" fill="#ffd1c9"/>
<rect x="974.85" y="2721.04" width="67.5" height="65.3" fill="#ffd1c9"/>
<rect x="1053.1" y="2721.04" width="67.8" height="65.3" fill="#ffd1c9"/>
<rect x="1131.35" y="2721.04" width="65.35" height="65.3" fill="#fdbaaf"/>
<rect x="1210.15" y="2721.04" width="64.55" height="65.3" fill="#f38b7c"/>
<rect x="1288.45" y="2721.04" width="65" height="65.3" fill="#f59384"/>
<g stroke="#fffbfa"><path class="nb" d="M1366.85 2720.49H1432.6V2786.89H1366.85z"/><path class="nx" d="M1366.85 2720.49L1432.6 2786.89M1366.85 2786.89L1432.6 2720.49"/></g>
<rect x="1445.45" y="2721.04" width="65.6" height="65.3" fill="#f89f91"/>
<g stroke="#ffded8"><path class="nb" d="M1523.85 2720.49H1589.1V2786.89H1523.85z"/><path class="nx" d="M1523.85 2720.49L1589.1 2786.89M1523.85 2786.89L1589.1 2720.49"/></g>
<rect x="1602.65" y="2721.04" width="64.9" height="65.3" fill="#fec5bc"/>
<rect x="1678.3" y="2721.04" width="67.5" height="65.3" fill="#a897cd"/>
<rect x="1756.95" y="2721.04" width="67.5" height="65.3" fill="#f38b7c"/>
</g>
<g>
<rect x="661.05" y="2799.77" width="67.8" height="65.2" fill="#fbac9f"/>
<rect x="739.3" y="2799.77" width="68" height="65.2" fill="#ffd1c9"/>
<rect x="817.85" y="2799.77" width="67.7" height="65.2" fill="#f8a193"/>
<g stroke="#fff5f4"><path class="nb" d="M895.55 2799.22H964.35V2865.52H895.55z"/><path class="nx" d="M895.55 2799.22L964.35 2865.52M895.55 2865.52L964.35 2799.22"/></g>
<rect x="974.85" y="2799.77" width="67.5" height="65.2" fill="#ffe0db"/>
<rect x="1053.1" y="2799.77" width="67.8" height="65.2" fill="#ffe2dd"/>
<rect x="1131.35" y="2799.77" width="65.35" height="65.2" fill="#fec5bc"/>
<rect x="1210.15" y="2799.77" width="64.55" height="65.2" fill="#fbac9f"/>
<rect x="1288.45" y="2799.77" width="65" height="65.2" fill="#fbac9f"/>
<g stroke="#fff5f4"><path class="nb" d="M1366.85 2799.22H1432.6V2865.52H1366.85z"/><path class="nx" d="M1366.85 2799.22L1432.6 2865.52M1366.85 2865.52L1432.6 2799.22"/></g>
<rect x="1445.45" y="2799.77" width="65.6" height="65.2" fill="#fcb2a6"/>
<rect x="1524.4" y="2799.77" width="64.15" height="65.2" fill="#fcb6aa"/>
<rect x="1602.65" y="2799.77" width="64.9" height="65.2" fill="#fcb6aa"/>
<rect x="1678.3" y="2799.77" width="67.5" height="65.2" fill="#8a76bd"/>
<rect x="1756.95" y="2799.77" width="67.5" height="65.2" fill="#f89f91"/>
</g>
<g>
<rect x="661.05" y="2878.3" width="67.8" height="65.7" fill="#faaa9d"/>
<rect x="739.3" y="2878.3" width="68" height="65.7" fill="#fcb2a6"/>
<rect x="817.85" y="2878.3" width="67.7" height="65.7" fill="#fec1b7"/>
<g stroke="#ffe6e1"><path class="nb" d="M974.3 2877.75H1042.9V2944.55H974.3z"/><path class="nx" d="M974.3 2877.75L1042.9 2944.55M974.3 2944.55L1042.9 2877.75"/></g>
<g stroke="#ffece8"><path class="nb" d="M1052.55 2877.75H1121.45V2944.55H1052.55z"/><path class="nx" d="M1052.55 2877.75L1121.45 2944.55M1052.55 2944.55L1121.45 2877.75"/></g>
<rect x="1131.35" y="2878.3" width="65.35" height="65.7" fill="#ffcfc7"/>
<rect x="1210.15" y="2878.3" width="64.55" height="65.7" fill="#f79b8d"/>
<rect x="1288.45" y="2878.3" width="65" height="65.7" fill="#ffdcd6"/>
<rect x="1367.4" y="2878.3" width="64.65" height="65.7" fill="#ffe0db"/>
<rect x="1445.45" y="2878.3" width="65.6" height="65.7" fill="#f7998a"/>
<rect x="1524.4" y="2878.3" width="64.15" height="65.7" fill="#fdbaaf"/>
<rect x="1602.65" y="2878.3" width="64.9" height="65.7" fill="#ffd8d2"/>
<rect x="1678.3" y="2878.3" width="67.5" height="65.7" fill="#ae9ed1"/>
<rect x="1756.95" y="2878.3" width="67.5" height="65.7" fill="#f89f91"/>
</g>
<g>
<rect x="661.05" y="2957.23" width="67.8" height="65.5" fill="#ffc9c0"/>
<rect x="739.3" y="2957.23" width="68" height="65.5" fill="#f8a193"/>
<rect x="817.85" y="2957.23" width="67.7" height="65.5" fill="#fdbaaf"/>
<g stroke="#e4def0"><path class="nb" d="M895.55 2956.68H964.35V3023.28H895.55z"/><path class="nx" d="M895.55 2956.68L964.35 3023.28M895.55 3023.28L964.35 2956.68"/></g>
<g stroke="#e2dbef"><path class="nb" d="M974.3 2956.68H1042.9V3023.28H974.3z"/><path class="nx" d="M974.3 2956.68L1042.9 3023.28M974.3 3023.28L1042.9 2956.68"/></g>
<g stroke="#fff5f4"><path class="nb" d="M1052.55 2956.68H1121.45V3023.28H1052.55z"/><path class="nx" d="M1052.55 2956.68L1121.45 3023.28M1052.55 3023.28L1121.45 2956.68"/></g>
<rect x="1131.35" y="2957.23" width="65.35" height="65.5" fill="#ffd5cd"/>
<rect x="1210.15" y="2957.23" width="64.55" height="65.5" fill="#ffd1c9"/>
<rect x="1288.45" y="2957.23" width="65" height="65.5" fill="#ffcfc7"/>
<g stroke="#fffbfa"><path class="nb" d="M1366.85 2956.68H1432.6V3023.28H1366.85z"/><path class="nx" d="M1366.85 2956.68L1432.6 3023.28M1366.85 3023.28L1432.6 2956.68"/></g>
<rect x="1445.45" y="2957.23" width="65.6" height="65.5" fill="#fdbaaf"/>
<rect x="1524.4" y="2957.23" width="64.15" height="65.5" fill="#ffcbc2"/>
<g stroke="#fff0ed"><path class="nb" d="M1602.1 2956.68H1668.1V3023.28H1602.1z"/><path class="nx" d="M1602.1 2956.68L1668.1 3023.28M1602.1 3023.28L1668.1 2956.68"/></g>
<g stroke="#d6cce7"><path class="nb" d="M1677.75 2956.68H1746.35V3023.28H1677.75z"/><path class="nx" d="M1677.75 2956.68L1746.35 3023.28M1677.75 3023.28L1746.35 2956.68"/></g>
<rect x="1756.95" y="2957.23" width="67.5" height="65.5" fill="#fcb2a6"/>
</g>
<g>
<g stroke="#fff0ed"><path class="nb" d="M660.5 3033.01H729.4V3102.01H660.5z"/><path class="nx" d="M660.5 3033.01L729.4 3102.01M660.5 3102.01L729.4 3033.01"/></g>
<rect x="739.3" y="3033.56" width="68" height="67.9" fill="#ffe6e1"/>
<rect x="817.85" y="3033.56" width="67.7" height="67.9" fill="#ffcfc7"/>
<rect x="896.1" y="3033.56" width="67.7" height="67.9" fill="#ffdcd6"/>
<rect x="974.85" y="3033.56" width="67.5" height="67.9" fill="#ffd3cb"/>
<rect x="1053.1" y="3033.56" width="67.8" height="67.9" fill="#fdbeb3"/>
<rect x="1131.35" y="3033.56" width="65.35" height="67.9" fill="#fcb2a6"/>
<rect x="1210.15" y="3033.56" width="64.55" height="67.9" fill="#ffdad4"/>
<g stroke="#f5f2f9"><path class="nb" d="M1287.9 3033.01H1354V3102.01H1287.9z"/><path class="nx" d="M1287.9 3033.01L1354 3102.01M1287.9 3102.01L1354 3033.01"/></g>
<g stroke="#fff9f8"><path class="nb" d="M1366.85 3033.01H1432.6V3102.01H1366.85z"/><path class="nx" d="M1366.85 3033.01L1432.6 3102.01M1366.85 3102.01L1432.6 3033.01"/></g>
<rect x="1445.45" y="3033.56" width="65.6" height="67.9" fill="#ffdcd6"/>
<rect x="1524.4" y="3033.56" width="64.15" height="67.9" fill="#ffcfc7"/>
<rect x="1602.65" y="3033.56" width="64.9" height="67.9" fill="#ffe0db"/>
<rect x="1678.3" y="3033.56" width="67.5" height="67.9" fill="#cdc2e3"/>
<rect x="1756.95" y="3033.56" width="67.5" height="67.9" fill="#fcb2a6"/>
</g>
<g>
<rect x="661.05" y="3112.19" width="67.8" height="68.1" fill="#fec1b7"/>
<rect x="739.3" y="3112.19" width="68" height="68.1" fill="#faa89b"/>
<rect x="817.85" y="3112.19" width="67.7" height="68.1" fill="#ffc9c0"/>
<g stroke="#e2dbef"><path class="nb" d="M895.55 3111.64H964.35V3180.84H895.55z"/><path class="nx" d="M895.55 3111.64L964.35 3180.84M895.55 3180.84L964.35 3111.64"/></g>
<g stroke="#ffe6e1"><path class="nb" d="M974.3 3111.64H1042.9V3180.84H974.3z"/><path class="nx" d="M974.3 3111.64L1042.9 3180.84M974.3 3180.84L1042.9 3111.64"/></g>
<g stroke="#fff9f8"><path class="nb" d="M1052.55 3111.64H1121.45V3180.84H1052.55z"/><path class="nx" d="M1052.55 3111.64L1121.45 3180.84M1052.55 3180.84L1121.45 3111.64"/></g>
<g stroke="#ffded8"><path class="nb" d="M1130.8 3111.64H1197.25V3180.84H1130.8z"/><path class="nx" d="M1130.8 3111.64L1197.25 3180.84M1130.8 3180.84L1197.25 3111.64"/></g>
<rect x="1210.15" y="3112.19" width="64.55" height="68.1" fill="#fcb6aa"/>
<rect x="1288.45" y="3112.19" width="65" height="68.1" fill="#ffcbc2"/>
<rect x="1367.4" y="3112.19" width="64.65" height="68.1" fill="#ffd1c9"/>
<rect x="1445.45" y="3112.19" width="65.6" height="68.1" fill="#fdbaaf"/>
<rect x="1524.4" y="3112.19" width="64.15" height="68.1" fill="#ffcfc7"/>
<g stroke="#ffe8e4"><path class="nb" d="M1602.1 3111.64H1668.1V3180.84H1602.1z"/><path class="nx" d="M1602.1 3111.64L1668.1 3180.84M1602.1 3180.84L1668.1 3111.64"/></g>
<rect x="1678.3" y="3112.19" width="67.5" height="68.1" fill="#cdc2e3"/>
<rect x="1756.95" y="3112.19" width="67.5" height="68.1" fill="#f9a597"/>
</g>
<g>
<rect x="661.05" y="3191.12" width="67.8" height="67.9" fill="#fec5bc"/>
<rect x="739.3" y="3191.12" width="68" height="67.9" fill="#ffdcd6"/>
<rect x="817.85" y="3191.12" width="67.7" height="67.9" fill="#f69788"/>
<g stroke="#fffbfa"><path class="nb" d="M895.55 3190.57H964.35V3259.57H895.55z"/><path class="nx" d="M895.55 3190.57L964.35 3259.57M895.55 3259.57L964.35 3190.57"/></g>
<g stroke="#fff0ed"><path class="nb" d="M974.3 3190.57H1042.9V3259.57H974.3z"/><path class="nx" d="M974.3 3190.57L1042.9 3259.57M974.3 3259.57L1042.9 3190.57"/></g>
<rect x="1053.1" y="3191.12" width="67.8" height="67.9" fill="#ffd5cd"/>
<rect x="1131.35" y="3191.12" width="65.35" height="67.9" fill="#ffcfc7"/>
<rect x="1210.15" y="3191.12" width="64.55" height="67.9" fill="#faaa9d"/>
<rect x="1288.45" y="3191.12" width="65" height="67.9" fill="#faa89b"/>
<g stroke="#fff7f6"><path class="nb" d="M1366.85 3190.57H1432.6V3259.57H1366.85z"/><path class="nx" d="M1366.85 3190.57L1432.6 3259.57M1366.85 3259.57L1432.6 3190.57"/></g>
<rect x="1445.45" y="3191.12" width="65.6" height="67.9" fill="#fdbaaf"/>
<rect x="1524.4" y="3191.12" width="64.15" height="67.9" fill="#ffcfc7"/>
<rect x="1602.65" y="3191.12" width="64.9" height="67.9" fill="#fbaea2"/>
<rect x="1678.3" y="3191.12" width="67.5" height="67.9" fill="#8671ba"/>
<rect x="1756.95" y="3191.12" width="67.5" height="67.9" fill="#f9a597"/>
</g>
<g>
<rect x="661.05" y="3269.8" width="67.8" height="68.1" fill="#ffeae6"/>
<g stroke="#f3f0f8"><path class="nb" d="M738.75 3269.25H807.85V3338.45H738.75z"/><path class="nx" d="M738.75 3269.25L807.85 3338.45M738.75 3338.45L807.85 3269.25"/></g>
<rect x="817.85" y="3269.8" width="67.7" height="68.1" fill="#fdbeb3"/>
<rect x="896.1" y="3269.8" width="67.7" height="68.1" fill="#e0d9ed"/>
<g stroke="#fffbfa"><path class="nb" d="M974.3 3269.25H1042.9V3338.45H974.3z"/><path class="nx" d="M974.3 3269.25L1042.9 3338.45M974.3 3338.45L1042.9 3269.25"/></g>
<rect x="1053.1" y="3269.8" width="67.8" height="68.1" fill="#fec5bc"/>
<rect x="1131.35" y="3269.8" width="65.35" height="68.1" fill="#fcb2a6"/>
<rect x="1210.15" y="3269.8" width="64.55" height="68.1" fill="#fdbeb3"/>
<rect x="1288.45" y="3269.8" width="65" height="68.1" fill="#ffcfc7"/>
<g stroke="#fff1ef"><path class="nb" d="M1366.85 3269.25H1432.6V3338.45H1366.85z"/><path class="nx" d="M1366.85 3269.25L1432.6 3338.45M1366.85 3338.45L1432.6 3269.25"/></g>
<rect x="1445.45" y="3269.8" width="65.6" height="68.1" fill="#fdbaaf"/>
<rect x="1524.4" y="3269.8" width="64.15" height="68.1" fill="#ffdad4"/>
<g stroke="#fff5f4"><path class="nb" d="M1602.1 3269.25H1668.1V3338.45H1602.1z"/><path class="nx" d="M1602.1 3269.25L1668.1 3338.45M1602.1 3338.45L1668.1 3269.25"/></g>
<rect x="1678.3" y="3269.8" width="67.5" height="68.1" fill="#9d8bc7"/>
<rect x="1756.95" y="3269.8" width="67.5" height="68.1" fill="#fdbeb3"/>
</g>
<g>
<g stroke="#fff1ef"><path class="nb" d="M660.5 3348.28H729.4V3417.13H660.5z"/><path class="nx" d="M660.5 3348.28L729.4 3417.13M660.5 3417.13L729.4 3348.28"/></g>
<rect x="739.3" y="3348.83" width="68" height="67.75" fill="#e0d9ed"/>
<rect x="817.85" y="3348.83" width="67.7" height="67.75" fill="#fdbeb3"/>
<rect x="896.1" y="3348.83" width="67.7" height="67.75" fill="#ded6ec"/>
<rect x="1053.1" y="3348.83" width="67.8" height="67.75" fill="#ffc9c0"/>
<rect x="1131.35" y="3348.83" width="65.35" height="67.75" fill="#fcb2a6"/>
<rect x="1210.15" y="3348.83" width="64.55" height="67.75" fill="#ffcfc7"/>
<rect x="1288.45" y="3348.83" width="65" height="67.75" fill="#ffd1c9"/>
<g stroke="#fff1ef"><path class="nb" d="M1366.85 3348.28H1432.6V3417.13H1366.85z"/><path class="nx" d="M1366.85 3348.28L1432.6 3417.13M1366.85 3417.13L1432.6 3348.28"/></g>
<rect x="1445.45" y="3348.83" width="65.6" height="67.75" fill="#fdbaaf"/>
<rect x="1524.4" y="3348.83" width="64.15" height="67.75" fill="#ffe0db"/>
<g stroke="#fff1ef"><path class="nb" d="M1602.1 3348.28H1668.1V3417.13H1602.1z"/><path class="nx" d="M1602.1 3348.28L1668.1 3417.13M1602.1 3417.13L1668.1 3348.28"/></g>
<rect x="1678.3" y="3348.83" width="67.5" height="67.75" fill="#a290ca"/>
<rect x="1756.95" y="3348.83" width="67.5" height="67.75" fill="#fec5bc"/>
</g>
<g>
<g stroke="#e4def0"><path class="nb" d="M660.5 3426.76H729.4V3497.06H660.5z"/><path class="nx" d="M660.5 3426.76L729.4 3497.06M660.5 3497.06L729.4 3426.76"/></g>
<g stroke="#ffe6e1"><path class="nb" d="M817.3 3426.76H886.1V3497.06H817.3z"/><path class="nx" d="M817.3 3426.76L886.1 3497.06M817.3 3497.06L886.1 3426.76"/></g>
<rect x="896.1" y="3427.31" width="67.7" height="69.2" fill="#cdc2e3"/>
<g stroke="#e2dbef"><path class="nb" d="M974.3 3426.76H1042.9V3497.06H974.3z"/><path class="nx" d="M974.3 3426.76L1042.9 3497.06M974.3 3497.06L1042.9 3426.76"/></g>
<g stroke="#ffe2dd"><path class="nb" d="M1052.55 3426.76H1121.45V3497.06H1052.55z"/><path class="nx" d="M1052.55 3426.76L1121.45 3497.06M1052.55 3497.06L1121.45 3426.76"/></g>
<rect x="1131.35" y="3427.31" width="65.35" height="69.2" fill="#ffd1c9"/>
<rect x="1210.15" y="3427.31" width="64.55" height="69.2" fill="#fdbaaf"/>
<g stroke="#fff9f8"><path class="nb" d="M1287.9 3426.76H1354V3497.06H1287.9z"/><path class="nx" d="M1287.9 3426.76L1354 3497.06M1287.9 3497.06L1354 3426.76"/></g>
<g stroke="#ffece8"><path class="nb" d="M1366.85 3426.76H1432.6V3497.06H1366.85z"/><path class="nx" d="M1366.85 3426.76L1432.6 3497.06M1366.85 3497.06L1432.6 3426.76"/></g>
<rect x="1445.45" y="3427.31" width="65.6" height="69.2" fill="#ffd3cb"/>
<g stroke="#e0d9ed"><path class="nb" d="M1602.1 3426.76H1668.1V3497.06H1602.1z"/><path class="nx" d="M1602.1 3426.76L1668.1 3497.06M1602.1 3497.06L1668.1 3426.76"/></g>
<rect x="1678.3" y="3427.31" width="67.5" height="69.2" fill="#ae9ed1"/>
<rect x="1756.95" y="3427.31" width="67.5" height="69.2" fill="#ffcbc2"/>
</g>
<g>
<rect x="661.05" y="3507.24" width="67.8" height="68.1" fill="#f89f91"/>
<rect x="739.3" y="3507.24" width="68" height="68.1" fill="#ffcfc7"/>
<rect x="817.85" y="3507.24" width="67.7" height="68.1" fill="#f59182"/>
<g stroke="#fff0ed"><path class="nb" d="M895.55 3506.69H964.35V3575.89H895.55z"/><path class="nx" d="M895.55 3506.69L964.35 3575.89M895.55 3575.89L964.35 3506.69"/></g>
<rect x="974.85" y="3507.24" width="67.5" height="68.1" fill="#ffc9c0"/>
<rect x="1053.1" y="3507.24" width="67.8" height="68.1" fill="#ffd8d2"/>
<rect x="1131.35" y="3507.24" width="65.35" height="68.1" fill="#fcb2a6"/>
<rect x="1210.15" y="3507.24" width="64.55" height="68.1" fill="#f69586"/>
<rect x="1288.45" y="3507.24" width="65" height="68.1" fill="#f38b7c"/>
<rect x="1367.4" y="3507.24" width="64.65" height="68.1" fill="#ffdcd6"/>
<rect x="1445.45" y="3507.24" width="65.6" height="68.1" fill="#faaa9d"/>
<rect x="1524.4" y="3507.24" width="64.15" height="68.1" fill="#ffdad4"/>
<rect x="1602.65" y="3507.24" width="64.9" height="68.1" fill="#fbb0a4"/>
<rect x="1678.3" y="3507.24" width="67.5" height="68.1" fill="#917dc0"/>
<rect x="1756.95" y="3507.24" width="67.5" height="68.1" fill="#f3897a"/>
</g>
<g>
<rect x="661.05" y="3586.07" width="67.8" height="67.9" fill="#fbb0a4"/>
<rect x="739.3" y="3586.07" width="68" height="67.9" fill="#fcb2a6"/>
<rect x="817.85" y="3586.07" width="67.7" height="67.9" fill="#ffcfc7"/>
<rect x="896.1" y="3586.07" width="67.7" height="67.9" fill="#ffcfc7"/>
<rect x="974.85" y="3586.07" width="67.5" height="67.9" fill="#fbb0a4"/>
<g stroke="#ffe6e1"><path class="nb" d="M1052.55 3585.52H1121.45V3654.52H1052.55z"/><path class="nx" d="M1052.55 3585.52L1121.45 3654.52M1052.55 3654.52L1121.45 3585.52"/></g>
<rect x="1131.35" y="3586.07" width="65.35" height="67.9" fill="#fcb6aa"/>
<rect x="1210.15" y="3586.07" width="64.55" height="67.9" fill="#fec1b7"/>
<g stroke="#ffece8"><path class="nb" d="M1287.9 3585.52H1354V3654.52H1287.9z"/><path class="nx" d="M1287.9 3585.52L1354 3654.52M1287.9 3654.52L1354 3585.52"/></g>
<rect x="1367.4" y="3586.07" width="64.65" height="67.9" fill="#8671ba"/>
<rect x="1445.45" y="3586.07" width="65.6" height="67.9" fill="#cbc0e2"/>
<rect x="1524.4" y="3586.07" width="64.15" height="67.9" fill="#fec5bc"/>
<g stroke="#ffe6e1"><path class="nb" d="M1602.1 3585.52H1668.1V3654.52H1602.1z"/><path class="nx" d="M1602.1 3585.52L1668.1 3654.52M1602.1 3654.52L1668.1 3585.52"/></g>
<rect x="1678.3" y="3586.07" width="67.5" height="67.9" fill="#cbc0e2"/>
<rect x="1756.95" y="3586.07" width="67.5" height="67.9" fill="#fbb0a4"/>
</g>
<g>
<rect x="661.05" y="3665.1" width="67.8" height="67.8" fill="#ffe0db"/>
<rect x="739.3" y="3665.1" width="68" height="67.8" fill="#fdbeb3"/>
<rect x="817.85" y="3665.1" width="67.7" height="67.8" fill="#fbb0a4"/>
<rect x="896.1" y="3665.1" width="67.7" height="67.8" fill="#ffe0db"/>
<rect x="974.85" y="3665.1" width="67.5" height="67.8" fill="#fec5bc"/>
<rect x="1053.1" y="3665.1" width="67.8" height="67.8" fill="#ffc9c0"/>
<rect x="1131.35" y="3665.1" width="65.35" height="67.8" fill="#fcb2a6"/>
<rect x="1210.15" y="3665.1" width="64.55" height="67.8" fill="#fec1b7"/>
<rect x="1288.45" y="3665.1" width="65" height="67.8" fill="#fec5bc"/>
<rect x="1367.4" y="3665.1" width="64.65" height="67.8" fill="#e8e3f2"/>
<rect x="1445.45" y="3665.1" width="65.6" height="67.8" fill="#f79b8d"/>
<rect x="1524.4" y="3665.1" width="64.15" height="67.8" fill="#f79b8d"/>
<rect x="1602.65" y="3665.1" width="64.9" height="67.8" fill="#ffe0db"/>
<rect x="1678.3" y="3665.1" width="67.5" height="67.8" fill="#8d78be"/>
<rect x="1756.95" y="3665.1" width="67.5" height="67.8" fill="#f69586"/>
</g>
<g>
<rect x="661.05" y="3743.93" width="67.8" height="67.7" fill="#fec5bc"/>
<rect x="739.3" y="3743.93" width="68" height="67.7" fill="#ffd1c9"/>
<g stroke="#fff1ef"><path class="nb" d="M817.3 3743.38H886.1V3812.18H817.3z"/><path class="nx" d="M817.3 3743.38L886.1 3812.18M817.3 3812.18L886.1 3743.38"/></g>
<g stroke="#f0edf7"><path class="nb" d="M895.55 3743.38H964.35V3812.18H895.55z"/><path class="nx" d="M895.55 3743.38L964.35 3812.18M895.55 3812.18L964.35 3743.38"/></g>
<rect x="974.85" y="3743.93" width="67.5" height="67.7" fill="#fffdfd"/>
<rect x="1053.1" y="3743.93" width="67.8" height="67.7" fill="#f69586"/>
<rect x="1131.35" y="3743.93" width="65.35" height="67.7" fill="#ef7b6c"/>
<rect x="1210.15" y="3743.93" width="64.55" height="67.7" fill="#fec5bc"/>
<rect x="1288.45" y="3743.93" width="65" height="67.7" fill="#ffd1c9"/>
<rect x="1367.4" y="3743.93" width="64.65" height="67.7" fill="#faa89b"/>
<rect x="1445.45" y="3743.93" width="65.6" height="67.7" fill="#f38b7c"/>
<rect x="1524.4" y="3743.93" width="64.15" height="67.7" fill="#fcb2a6"/>
<rect x="1602.65" y="3743.93" width="64.9" height="67.7" fill="#ffd8d2"/>
<rect x="1678.3" y="3743.93" width="67.5" height="67.7" fill="#6550a8"/>
<rect x="1756.95" y="3743.93" width="67.5" height="67.7" fill="#f9a597"/>
</g>
<g>
<g stroke="#ffded8"><path class="nb" d="M660.5 3822.01H729.4V3890.91H660.5z"/><path class="nx" d="M660.5 3822.01L729.4 3890.91M660.5 3890.91L729.4 3822.01"/></g>
<rect x="739.3" y="3822.56" width="68" height="67.8" fill="#ffcfc7"/>
<rect x="817.85" y="3822.56" width="67.7" height="67.8" fill="#fdbeb3"/>
<g stroke="#ffe6e1"><path class="nb" d="M974.3 3822.01H1042.9V3890.91H974.3z"/><path class="nx" d="M974.3 3822.01L1042.9 3890.91M974.3 3890.91L1042.9 3822.01"/></g>
<g stroke="#ffe2dd"><path class="nb" d="M1052.55 3822.01H1121.45V3890.91H1052.55z"/><path class="nx" d="M1052.55 3822.01L1121.45 3890.91M1052.55 3890.91L1121.45 3822.01"/></g>
<g stroke="#ffd8d2"><path class="nb" d="M1130.8 3822.01H1197.25V3890.91H1130.8z"/><path class="nx" d="M1130.8 3822.01L1197.25 3890.91M1130.8 3890.91L1197.25 3822.01"/></g>
<rect x="1210.15" y="3822.56" width="64.55" height="67.8" fill="#fec1b7"/>
<g stroke="#ffd8d2"><path class="nb" d="M1287.9 3822.01H1354V3890.91H1287.9z"/><path class="nx" d="M1287.9 3822.01L1354 3890.91M1287.9 3890.91L1354 3822.01"/></g>
<g stroke="#ffded8"><path class="nb" d="M1366.85 3822.01H1432.6V3890.91H1366.85z"/><path class="nx" d="M1366.85 3822.01L1432.6 3890.91M1366.85 3890.91L1432.6 3822.01"/></g>
<rect x="1445.45" y="3822.56" width="65.6" height="67.8" fill="#ffcbc2"/>
<rect x="1524.4" y="3822.56" width="64.15" height="67.8" fill="#fec1b7"/>
<g stroke="#ffded8"><path class="nb" d="M1602.1 3822.01H1668.1V3890.91H1602.1z"/><path class="nx" d="M1602.1 3822.01L1668.1 3890.91M1602.1 3890.91L1668.1 3822.01"/></g>
<rect x="1678.3" y="3822.56" width="67.5" height="67.8" fill="#d8cfe9"/>
<rect x="1756.95" y="3822.56" width="67.5" height="67.8" fill="#ffcfc7"/>
</g>
<g>
<rect x="661.05" y="3901.39" width="67.8" height="67.5" fill="#fdbaaf"/>
<g stroke="#ffd8d2"><path class="nb" d="M738.75 3900.84H807.85V3969.44H738.75z"/><path class="nx" d="M738.75 3900.84L807.85 3969.44M738.75 3969.44L807.85 3900.84"/></g>
<g stroke="#ffd1c9"><path class="nb" d="M817.3 3900.84H886.1V3969.44H817.3z"/><path class="nx" d="M817.3 3900.84L886.1 3969.44M817.3 3969.44L886.1 3900.84"/></g>
<g stroke="#ffd8d2"><path class="nb" d="M974.3 3900.84H1042.9V3969.44H974.3z"/><path class="nx" d="M974.3 3900.84L1042.9 3969.44M974.3 3969.44L1042.9 3900.84"/></g>
<rect x="1053.1" y="3901.39" width="67.8" height="67.5" fill="#fec5bc"/>
<rect x="1131.35" y="3901.39" width="65.35" height="67.5" fill="#fdbeb3"/>
<g stroke="#ffd8d2"><path class="nb" d="M1209.6 3900.84H1275.25V3969.44H1209.6z"/><path class="nx" d="M1209.6 3900.84L1275.25 3969.44M1209.6 3969.44L1275.25 3900.84"/></g>
<g stroke="#ffd8d2"><path class="nb" d="M1287.9 3900.84H1354V3969.44H1287.9z"/><path class="nx" d="M1287.9 3900.84L1354 3969.44M1287.9 3969.44L1354 3900.84"/></g>
<g stroke="#f0edf7"><path class="nb" d="M1366.85 3900.84H1432.6V3969.44H1366.85z"/><path class="nx" d="M1366.85 3900.84L1432.6 3969.44M1366.85 3969.44L1432.6 3900.84"/></g>
<g stroke="#ffd8d2"><path class="nb" d="M1444.9 3900.84H1511.6V3969.44H1444.9z"/><path class="nx" d="M1444.9 3900.84L1511.6 3969.44M1444.9 3969.44L1511.6 3900.84"/></g>
<g stroke="#ffe6e1"><path class="nb" d="M1523.85 3900.84H1589.1V3969.44H1523.85z"/><path class="nx" d="M1523.85 3900.84L1589.1 3969.44M1523.85 3969.44L1589.1 3900.84"/></g>
<g stroke="#d1c7e5"><path class="nb" d="M1677.75 3900.84H1746.35V3969.44H1677.75z"/><path class="nx" d="M1677.75 3900.84L1746.35 3969.44M1677.75 3969.44L1746.35 3900.84"/></g>
<g stroke="#ffd5cd"><path class="nb" d="M1756.4 3900.84H1825V3969.44H1756.4z"/><path class="nx" d="M1756.4 3900.84L1825 3969.44M1756.4 3969.44L1825 3900.84"/></g>
</g>
<g>
<g stroke="#fff7f6"><path class="nb" d="M660.5 3979.27H729.4V4048.47H660.5z"/><path class="nx" d="M660.5 3979.27L729.4 4048.47M660.5 4048.47L729.4 3979.27"/></g>
<g stroke="#ffe2dd"><path class="nb" d="M738.75 3979.27H807.85V4048.47H738.75z"/><path class="nx" d="M738.75 3979.27L807.85 4048.47M738.75 4048.47L807.85 3979.27"/></g>
<g stroke="#ffded8"><path class="nb" d="M817.3 3979.27H886.1V4048.47H817.3z"/><path class="nx" d="M817.3 3979.27L886.1 4048.47M817.3 4048.47L886.1 3979.27"/></g>
<g stroke="#cbc0e2"><path class="nb" d="M895.55 3979.27H964.35V4048.47H895.55z"/><path class="nx" d="M895.55 3979.27L964.35 4048.47M895.55 4048.47L964.35 3979.27"/></g>
<g stroke="#f3f0f8"><path class="nb" d="M974.3 3979.27H1042.9V4048.47H974.3z"/><path class="nx" d="M974.3 3979.27L1042.9 4048.47M974.3 4048.47L1042.9 3979.27"/></g>
<g stroke="#ffe2dd"><path class="nb" d="M1052.55 3979.27H1121.45V4048.47H1052.55z"/><path class="nx" d="M1052.55 3979.27L1121.45 4048.47M1052.55 4048.47L1121.45 3979.27"/></g>
<rect x="1131.35" y="3979.82" width="65.35" height="68.1" fill="#ffcfc7"/>
<rect x="1210.15" y="3979.82" width="64.55" height="68.1" fill="#ef7b6c"/>
<g stroke="#fffdfd"><path class="nb" d="M1287.9 3979.27H1354V4048.47H1287.9z"/><path class="nx" d="M1287.9 3979.27L1354 4048.47M1287.9 4048.47L1354 3979.27"/></g>
<g stroke="#e0d9ed"><path class="nb" d="M1366.85 3979.27H1432.6V4048.47H1366.85z"/><path class="nx" d="M1366.85 3979.27L1432.6 4048.47M1366.85 4048.47L1432.6 3979.27"/></g>
<rect x="1445.45" y="3979.82" width="65.6" height="68.1" fill="#f89f91"/>
<g stroke="#fffdfd"><path class="nb" d="M1523.85 3979.27H1589.1V4048.47H1523.85z"/><path class="nx" d="M1523.85 3979.27L1589.1 4048.47M1523.85 4048.47L1589.1 3979.27"/></g>
<g stroke="#eeeaf6"><path class="nb" d="M1602.1 3979.27H1668.1V4048.47H1602.1z"/><path class="nx" d="M1602.1 3979.27L1668.1 4048.47M1602.1 4048.47L1668.1 3979.27"/></g>
<rect x="1678.3" y="3979.82" width="67.5" height="68.1" fill="#b9aad7"/>
<rect x="1756.95" y="3979.82" width="67.5" height="68.1" fill="#f69586"/>
</g>
</g>
<g class="yl">
<text transform="translate(609.6 960.5) scale(1 0.94)" textLength="262.41">ACC (n=79)</text>
<text transform="translate(609.6 1036.83) scale(1 0.94)" textLength="312.37">BLCA (n=408)</text>
<text transform="translate(609.6 1115.21) scale(1 0.94)" textLength="346.23">BRCA (n=1100)</text>
<text transform="translate(609.6 1194.49) scale(1 0.94)" textLength="448.77">BRCA-Basal (n=191)</text>
<text transform="translate(609.6 1272.92) scale(1 0.94)" textLength="412.73">BRCA-Her2 (n=82)</text>
<text transform="translate(609.6 1352.25) scale(1 0.94)" textLength="457.3">BRCA-LumA (n=568)</text>
<text transform="translate(609.6 1431.08) scale(1 0.94)" textLength="457.38">BRCA-LumB (n=219)</text>
<text transform="translate(609.6 1509.51) scale(1 0.94)" textLength="319.74">CESC (n=306)</text>
<text transform="translate(609.6 1588.64) scale(1 0.94)" textLength="293.18">CHOL (n=36)</text>
<text transform="translate(609.6 1667.57) scale(1 0.94)" textLength="326.99">COAD (n=458)</text>
<text transform="translate(609.6 1746.2) scale(1 0.94)" textLength="289.43">DLBC (n=48)</text>
<text transform="translate(609.6 1824.93) scale(1 0.94)" textLength="317.52">ESCA (n=185)</text>
<text transform="translate(609.6 1903.46) scale(1 0.94)" textLength="298.71">GBM (n=153)</text>
<text transform="translate(609.6 1982.59) scale(1 0.94)" textLength="326.06">HNSC (n=522)</text>
<text transform="translate(609.6 2061.62) scale(1 0.94)" textLength="444.47">HNSC-HPV- (n=422)</text>
<text transform="translate(609.6 2140.2) scale(1 0.94)" textLength="439.51">HNSC-HPV+ (n=98)</text>
<text transform="translate(609.6 2218.88) scale(1 0.94)" textLength="278.56">KICH (n=66)</text>
<text transform="translate(609.6 2297.51) scale(1 0.94)" textLength="303.3">KIRC (n=533)</text>
<text transform="translate(609.6 2376.59) scale(1 0.94)" textLength="299.98">KIRP (n=290)</text>
<text transform="translate(609.6 2455.57) scale(1 0.94)" textLength="291.72">LGG (n=516)</text>
<text transform="translate(609.6 2534.2) scale(1 0.94)" textLength="303.16">LIHC (n=371)</text>
<text transform="translate(609.6 2612.93) scale(1 0.94)" textLength="315.07">LUAD (n=515)</text>
<text transform="translate(609.6 2691.46) scale(1 0.94)" textLength="313.01">LUSC (n=501)</text>
<text transform="translate(609.6 2770.59) scale(1 0.94)" textLength="300.09">MESO (n=87)</text>
<text transform="translate(609.6 2847.12) scale(1 0.94)" textLength="261.49">OV (n=303)</text>
<text transform="translate(609.6 2925.75) scale(1 0.94)" textLength="316.7">PAAD (n=179)</text>
<text transform="translate(609.6 3004.18) scale(1 0.94)" textLength="317.84">PCPG (n=181)</text>
<text transform="translate(609.6 3083.11) scale(1 0.94)" textLength="317.28">PRAD (n=498)</text>
<text transform="translate(609.6 3162.24) scale(1 0.94)" textLength="323.54">READ (n=166)</text>
<text transform="translate(609.6 3241.07) scale(1 0.94)" textLength="317.71">SARC (n=260)</text>
<text transform="translate(609.6 3319.4) scale(1 0.94)" textLength="322.56">SKCM (n=471)</text>
<text transform="translate(609.6 3398.23) scale(1 0.94)" textLength="574.41">SKCM-Metastasis (n=368)</text>
<text transform="translate(609.6 3477.86) scale(1 0.94)" textLength="508.08">SKCM-Primary (n=103)</text>
<text transform="translate(609.6 3556.69) scale(1 0.94)" textLength="315.01">STAD (n=415)</text>
<text transform="translate(609.6 3635.52) scale(1 0.94)" textLength="317.15">TGCT (n=150)</text>
<text transform="translate(609.6 3714.6) scale(1 0.94)" textLength="319.97">THCA (n=509)</text>
<text transform="translate(609.6 3793.28) scale(1 0.94)" textLength="322.71">THYM (n=120)</text>
<text transform="translate(609.6 3871.91) scale(1 0.94)" textLength="323.64">UCEC (n=545)</text>
<text transform="translate(609.6 3950.44) scale(1 0.94)" textLength="263.4">UCS (n=57)</text>
<text transform="translate(609.6 4029.47) scale(1 0.94)" textLength="268.17">UVM (n=80)</text>
</g>
<g class="xl">
<text transform="translate(695 861.5) rotate(-90) scale(1 0.94)" textLength="390.69">Macrophage_EPIC</text>
<text transform="translate(773.36 861.5) rotate(-90) scale(1 0.94)" textLength="427.41">Macrophage_TIMER</text>
<text transform="translate(851.72 861.5) rotate(-90) scale(1 0.94)" textLength="426.92">Macrophage_XCELL</text>
<text transform="translate(930.08 861.5) rotate(-90) scale(1 0.94)" textLength="623.65">Macrophage M0_CIBERSORT</text>
<text transform="translate(1008.44 861.5) rotate(-90) scale(1 0.94)" textLength="719.42">Macrophage M0_CIBERSORT-ABS</text>
<text transform="translate(1086.8 861.5) rotate(-90) scale(1 0.94)" textLength="623.65">Macrophage M1_CIBERSORT</text>
<text transform="translate(1165.16 861.5) rotate(-90) scale(1 0.94)" textLength="719.42">Macrophage M1_CIBERSORT-ABS</text>
<text transform="translate(1243.52 861.5) rotate(-90) scale(1 0.94)" textLength="628.32">Macrophage M1_QUANTISEQ</text>
<text transform="translate(1321.88 861.5) rotate(-90) scale(1 0.94)" textLength="506.48">Macrophage M1_XCELL</text>
<text transform="translate(1400.24 861.5) rotate(-90) scale(1 0.94)" textLength="623.65">Macrophage M2_CIBERSORT</text>
<text transform="translate(1478.6 861.5) rotate(-90) scale(1 0.94)" textLength="718.92">Macrophage M2_CIBERSORT-ABS</text>
<text transform="translate(1556.96 861.5) rotate(-90) scale(1 0.94)" textLength="628.32">Macrophage M2_QUANTISEQ</text>
<text transform="translate(1635.32 861.5) rotate(-90) scale(1 0.94)" textLength="505.58">Macrophage M2_XCELL</text>
<text transform="translate(1713.68 861.5) rotate(-90) scale(1 0.94)" textLength="473.13">Macrophage M2_TIDE</text>
<text transform="translate(1792.04 861.5) rotate(-90) scale(1 0.94)" textLength="829.5">Macrophage/Monocyte_MCPCOUNTER</text>
</g>
<g class="lg">
<path fill="none" stroke="#000" stroke-width="4.2" d="M1986.3 2195.3h68.5v68.5h-68.5z M1986.3 2195.3l68.5 68.5 M1986.3 2263.8l68.5 -68.5"/>
<rect x="1986.5" y="2321.5" width="68" height="68" fill="#000"/>
<text transform="translate(2122.3 2252) scale(1 0.96)" font-size="64.9">p &gt; 0.05</text>
<text transform="translate(2122.3 2379) scale(1 0.96)" font-size="64.9">p ≤ 0.05</text>
<defs><linearGradient id="cb" x1="0" y1="0" x2="0" y2="1">
<stop offset="0" stop-color="#d7302e"/>
<stop offset="0.05" stop-color="#df4b41"/>
<stop offset="0.1" stop-color="#e76254"/>
<stop offset="0.15" stop-color="#ed7768"/>
<stop offset="0.2" stop-color="#f38b7c"/>
<stop offset="0.25" stop-color="#f89f91"/>
<stop offset="0.3" stop-color="#fcb2a6"/>
<stop offset="0.35" stop-color="#fec5bc"/>
<stop offset="0.4" stop-color="#ffd8d2"/>
<stop offset="0.45" stop-color="#ffece8"/>
<stop offset="0.5" stop-color="#ffffff"/>
<stop offset="0.55" stop-color="#eae5f3"/>
<stop offset="0.6" stop-color="#d6cce7"/>
<stop offset="0.65" stop-color="#c1b4dc"/>
<stop offset="0.7" stop-color="#ac9bd0"/>
<stop offset="0.75" stop-color="#9784c4"/>
<stop offset="0.8" stop-color="#826db8"/>
<stop offset="0.85" stop-color="#6c56ac"/>
<stop offset="0.9" stop-color="#5541a0"/>
<stop offset="0.95" stop-color="#3b2b94"/>
<stop offset="1" stop-color="#161688"/>
</linearGradient></defs>
<text x="1959.3" y="2644.5" font-size="79.6">Partial_Cor</text>
<rect x="1958" y="2694.3" width="52" height="207.7" fill="url(#cb)"/>
<text x="2069.5" y="2717.8" font-size="72" text-anchor="middle">1</text>
<text x="2069.5" y="2822" font-size="72" text-anchor="middle">0</text>
<text x="2020.4" y="2922.7" font-size="72" letter-spacing="-10.2">−1</text>
</g>
</g>
</svg>
</body></html>
